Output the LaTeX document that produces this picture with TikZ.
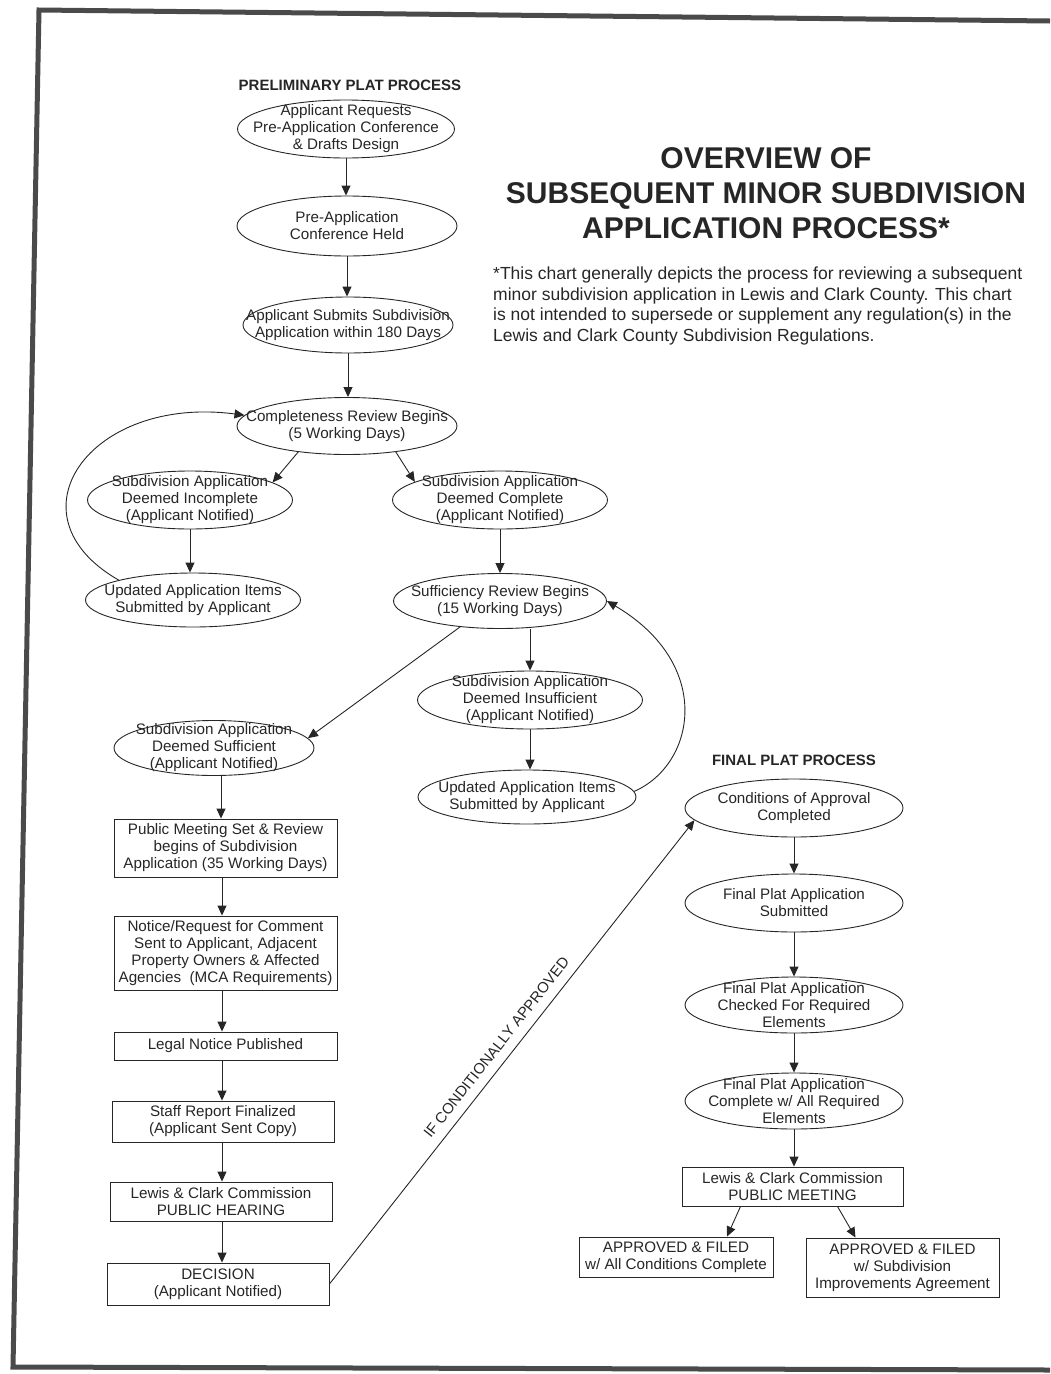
\documentclass[tikz,border=0pt]{standalone}
\usepackage{fontspec}
\setmainfont{Liberation Sans}
\usetikzlibrary{shapes.geometric,arrows.meta,calc}
\definecolor{ink}{HTML}{262626}
\definecolor{framec}{HTML}{4A4A4A}
\newcommand{\ellnode}[5]{%
  \node[ellshape,minimum width=#3pt,minimum height=#4pt] (#1) at (#2) {};
  \node[txt] (#1t) at (#1.center) {#5};}
\begin{document}
\begin{tikzpicture}[x=1pt,y=-1pt,
  ellshape/.style={draw=ink,ellipse,inner sep=0pt,line width=0.9pt},
  txt/.style={align=center,font=\fontsize{15.2}{17}\selectfont,text=ink,inner sep=0pt},
  boxn/.style={draw=ink,rectangle,inner sep=0pt,line width=0.9pt,align=center,
    font=\fontsize{15.2}{17}\selectfont,text=ink},
  arr/.style={draw=ink,line width=0.9pt,-{Triangle[length=10pt,width=9pt]}},
  hdr/.style={font=\bfseries\fontsize{15}{17}\selectfont,text=ink,inner sep=0pt},
]
\useasboundingbox (0,0) rectangle (1050,1374);
% page frame
\draw[framec,line width=5pt,line join=miter] (1050,21) -- (39,10) -- (13,1367) -- (1050,1370);

% headings
\node[hdr] (hprelim) at (350,85) {PRELIMINARY PLAT PROCESS};
\node[hdr] (hfinal) at (794,760) {FINAL PLAT PROCESS};
\node[font=\bfseries\fontsize{30}{35}\selectfont,align=center,text=ink,inner sep=0pt] (title) at (766,193)
  {OVERVIEW OF\\SUBSEQUENT MINOR SUBDIVISION\\APPLICATION PROCESS*};
\node[anchor=north west,align=left,font=\fontsize{17.5}{20.5}\selectfont,text=ink,inner sep=0pt] (note) at (493,267)
  {*This chart generally depicts the process for reviewing a subsequent\\
   minor subdivision application in Lewis and Clark County. This chart\\
   is not intended to supersede or supplement any regulation(s) in the\\
   Lewis and Clark County Subdivision Regulations.};

% preliminary plat ellipses
\ellnode{e1}{346,129}{217}{58}{Applicant Requests\\Pre-Application Conference\\\& Drafts Design}
\ellnode{e2}{347,226}{220}{60}{Pre-Application\\Conference Held}
\ellnode{e3}{348,325}{210}{56}{Applicant Submits Subdivision\\Application within 180 Days}
\ellnode{e4}{347,426}{220}{57}{Completeness Review Begins\\(5 Working Days)}
\ellnode{e5}{190,500}{205}{58}{Subdivision Application\\Deemed Incomplete\\(Applicant Notified)}
\ellnode{e6}{500,500}{215}{58}{Subdivision Application\\Deemed Complete\\(Applicant Notified)}
\ellnode{e7}{193,600}{215}{54}{Updated Application Items\\Submitted by Applicant}
\ellnode{e8}{500,601}{213}{55}{Sufficiency Review Begins\\(15 Working Days)}
\ellnode{e9}{530,700}{225}{58}{Subdivision Application\\Deemed Insufficient\\(Applicant Notified)}
\ellnode{e10}{214,748}{200}{55}{Subdivision Application\\Deemed Sufficient\\(Applicant Notified)}
\ellnode{e11}{527,797}{218}{54}{Updated Application Items\\Submitted by Applicant}

% left column boxes
\node[boxn,minimum width=223pt,minimum height=58pt] (b1) at (225.5,848) {Public Meeting Set \& Review\\begins of Subdivision\\Application (35 Working Days)};
\node[boxn,minimum width=223pt,minimum height=74pt] (b2) at (225.5,953) {Notice/Request for Comment\\Sent to Applicant, Adjacent\\Property Owners \& Affected\\Agencies\ \ (MCA Requirements)};
\node[boxn,minimum width=223pt,minimum height=28pt] (b3) at (225.5,1046) {Legal Notice Published};
\node[boxn,minimum width=222pt,minimum height=41pt] (b4) at (223,1121.5) {Staff Report Finalized\\(Applicant Sent Copy)};
\node[boxn,minimum width=222pt,minimum height=39pt] (b5) at (221,1201.5) {Lewis \& Clark Commission\\PUBLIC HEARING};
\node[boxn,minimum width=222pt,minimum height=42pt] (b6) at (218,1284) {DECISION\\(Applicant Notified)};

% final plat
\ellnode{f1}{794,808}{218}{58}{Conditions of Approval\\Completed}
\ellnode{f2}{794,903}{218}{58}{Final Plat Application\\Submitted}
\ellnode{f3}{794,1005}{218}{56}{Final Plat Application\\Checked For Required\\Elements}
\ellnode{f4}{794,1101}{218}{56}{Final Plat Application\\Complete w/ All Required\\Elements}
\node[boxn,minimum width=221pt,minimum height=39pt] (fb1) at (792.5,1186.5) {Lewis \& Clark Commission\\PUBLIC MEETING};
\node[boxn,minimum width=194pt,minimum height=40pt] (fb2) at (676,1257) {APPROVED \& FILED\\w/ All Conditions Complete};
\node[boxn,minimum width=193pt,minimum height=59pt] (fb3) at (902.5,1267.5) {APPROVED \& FILED\\w/ Subdivision\\Improvements Agreement};

\coordinate (colx) at (222,0);

% connectors
\draw[arr] (e1.south) -- (e1.south |- e2.north);
\draw[arr] (e2.south) -- (e2.south |- e3.north);
\draw[arr] (e3.south) -- (e3.south |- e4.north);
\draw[arr] (e4.208) -- (e5.12);
\draw[arr] (e4.332) -- (e6.168);
\draw[arr] (e5.south) -- (e5.south |- e7.north);
\draw[arr] (e7.165) .. controls (5,515) and (90,395) .. (e4.174);
\draw[arr] (e6.south) -- (e6.south |- e8.north);
\draw[arr] (e9.north |- e8.south) -- (e9.north);
\draw[arr] (e8.213) -- (e10.6);
\draw[arr] (e9.south) -- (e9.south |- e11.north);
\draw[arr] (e11.3) .. controls (695,765) and (715,665) .. (e8.east);
\draw[arr] ([xshift=7pt]e10.south) -- ([xshift=7pt]e10.south |- b1.north);
\draw[arr] (b1.south -| colx) -- (b2.north -| colx);
\draw[arr] (b2.south -| colx) -- (b3.north -| colx);
\draw[arr] (b3.south -| colx) -- (b4.north -| colx);
\draw[arr] (b4.south -| colx) -- (b5.north -| colx);
\draw[arr] (b5.south -| colx) -- (b6.north -| colx);
\draw[arr] (b6.east) -- (f1.187)
  node[sloped,above=6pt,pos=0.49,font=\fontsize{15}{17}\selectfont,text=ink] (cond) {IF CONDITIONALLY APPROVED};
\draw[arr] (f1.south) -- (f1.south |- f2.north);
\draw[arr] (f2.south) -- (f2.south |- f3.north);
\draw[arr] (f3.south) -- (f3.south |- f4.north);
\draw[arr] (f4.south) -- (f4.south |- fb1.north);
\draw[arr] ([xshift=-52pt]fb1.south) -- ([xshift=51pt]fb2.north);
\draw[arr] ([xshift=45pt]fb1.south) -- ([xshift=-47pt]fb3.north);
\end{tikzpicture}
\end{document}
